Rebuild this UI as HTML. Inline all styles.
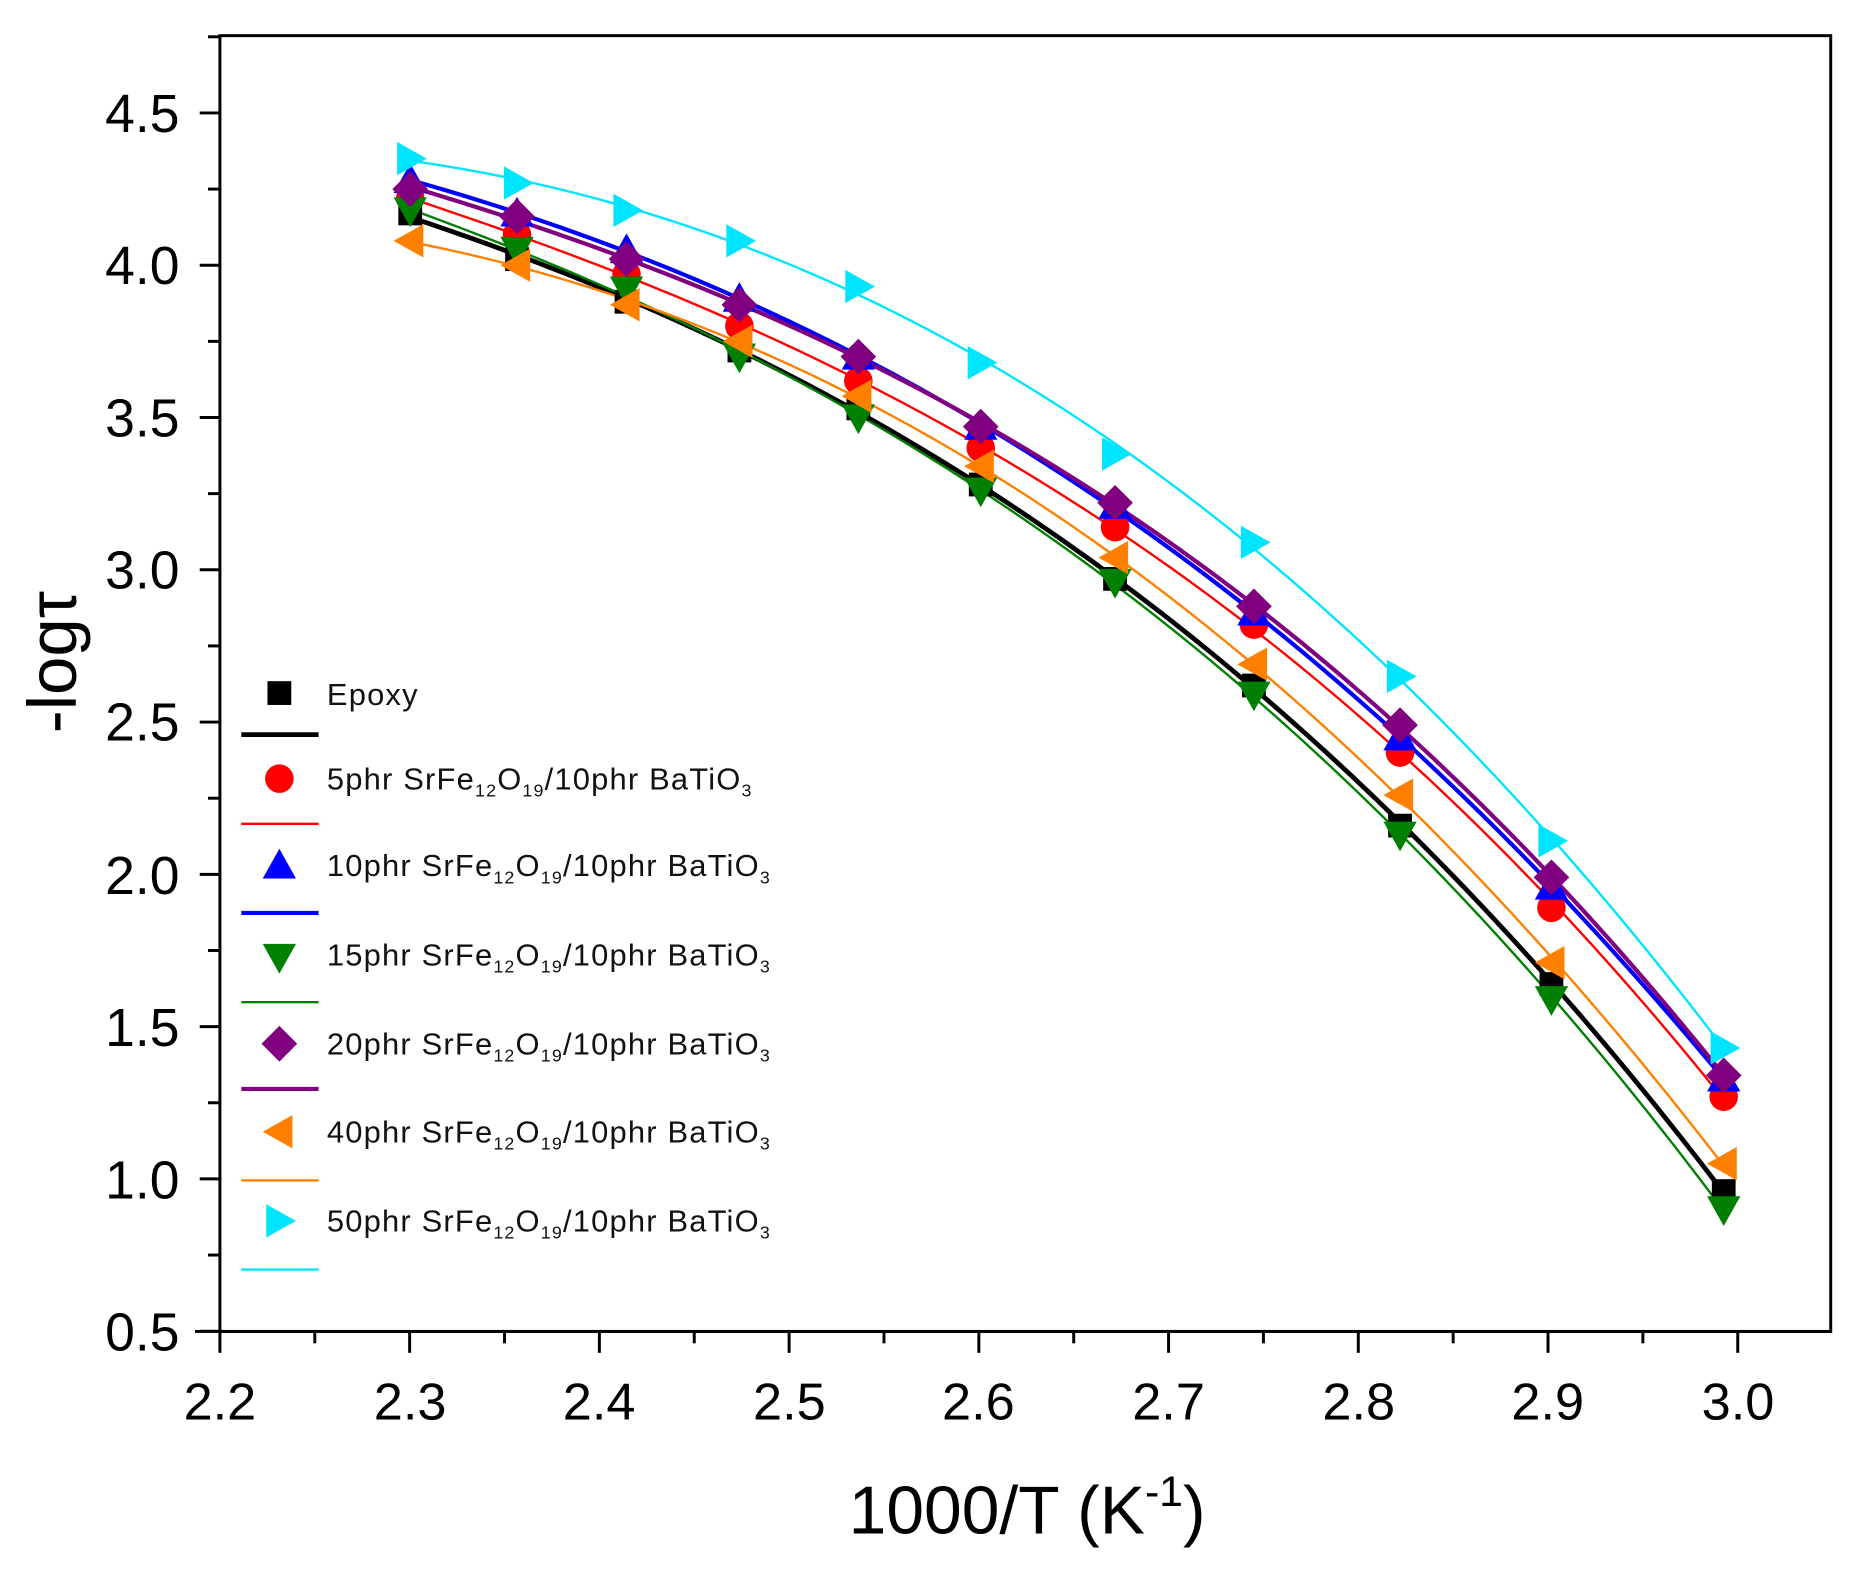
<!DOCTYPE html>
<html><head><meta charset="utf-8"><style>
html,body{margin:0;padding:0;background:#fff;}
svg{display:block;}
text{font-family:"Liberation Sans",Arial,sans-serif;}
</style></head><body>
<svg id="s" width="1864" height="1584" viewBox="0 0 1568 1332.46" xmlns="http://www.w3.org/2000/svg">
<rect x="0" y="0" width="1568" height="1333" fill="#fff"/>
<g id="plot"></g>
<rect x="185" y="30" width="1355" height="1090" fill="none" stroke="#000" stroke-width="2.5"/>
<line x1="164" y1="1120" x2="1540" y2="1120" stroke="#000" stroke-width="2.5"/>
<g id="ticks" stroke="#000" stroke-width="2.5"></g>
<g font-size="45" text-anchor="end">
<text x="151" y="111">4.5</text><text x="151" y="239">4.0</text><text x="151" y="367">3.5</text>
<text x="151" y="495">3.0</text><text x="151" y="623">2.5</text><text x="151" y="752">2.0</text>
<text x="151" y="880">1.5</text><text x="151" y="1008">1.0</text><text x="151" y="1136">0.5</text>
</g>
<g font-size="44" text-anchor="middle">
<text x="185" y="1194">2.2</text><text x="345" y="1194">2.3</text><text x="504" y="1194">2.4</text>
<text x="664" y="1194">2.5</text><text x="823" y="1194">2.6</text><text x="983" y="1194">2.7</text>
<text x="1143" y="1194">2.8</text><text x="1302" y="1194">2.9</text><text x="1462" y="1194">3.0</text>
</g>
<text x="864" y="1290" font-size="57" text-anchor="middle">1000/T (K<tspan dy="-23" font-size="36">-1</tspan><tspan dy="23">)</tspan></text>
<text transform="translate(64,557) rotate(-90)" font-size="58" text-anchor="middle">-logτ</text>
<g id="legend"></g>
<g font-size="26" fill="#111" letter-spacing="1">
<text x="275" y="593">Epoxy</text>
<text x="275" y="664">5phr SrFe<tspan font-size="15" dy="6">12</tspan><tspan dy="-6">O</tspan><tspan font-size="15" dy="6">19</tspan><tspan dy="-6">/10phr BaTiO</tspan><tspan font-size="15" dy="6">3</tspan></text>
<text x="275" y="737">10phr SrFe<tspan font-size="15" dy="6">12</tspan><tspan dy="-6">O</tspan><tspan font-size="15" dy="6">19</tspan><tspan dy="-6">/10phr BaTiO</tspan><tspan font-size="15" dy="6">3</tspan></text>
<text x="275" y="812">15phr SrFe<tspan font-size="15" dy="6">12</tspan><tspan dy="-6">O</tspan><tspan font-size="15" dy="6">19</tspan><tspan dy="-6">/10phr BaTiO</tspan><tspan font-size="15" dy="6">3</tspan></text>
<text x="275" y="887">20phr SrFe<tspan font-size="15" dy="6">12</tspan><tspan dy="-6">O</tspan><tspan font-size="15" dy="6">19</tspan><tspan dy="-6">/10phr BaTiO</tspan><tspan font-size="15" dy="6">3</tspan></text>
<text x="275" y="961">40phr SrFe<tspan font-size="15" dy="6">12</tspan><tspan dy="-6">O</tspan><tspan font-size="15" dy="6">19</tspan><tspan dy="-6">/10phr BaTiO</tspan><tspan font-size="15" dy="6">3</tspan></text>
<text x="275" y="1036">50phr SrFe<tspan font-size="15" dy="6">12</tspan><tspan dy="-6">O</tspan><tspan font-size="15" dy="6">19</tspan><tspan dy="-6">/10phr BaTiO</tspan><tspan font-size="15" dy="6">3</tspan></text>
</g>
</svg>
<script>
var NS="http://www.w3.org/2000/svg";
function el(p,t,a){var e=document.createElementNS(NS,t);for(var k in a)e.setAttribute(k,a[k]);p.appendChild(e);return e;}
var X=function(v){return 185+(v-2.2)*1596;}, Y=function(v){return 95+(4.5-v)*256.2;};
var ticks=document.getElementById('ticks');
for(var i=0;i<=17;i++){var v=0.5+i*0.25;var y=Y(v);var maj=i%2==0;el(ticks,'line',{x1:maj?168:175,y1:y,x2:185,y2:y});}
for(var i=0;i<=16;i++){var v=2.2+i*0.05;var x=X(v);var maj=i%2==0;el(ticks,'line',{x1:x,y1:1120,x2:x,y2:maj?1138:1130});}
var xs=[2.3003,2.3566,2.4143,2.4738,2.5365,2.601,2.6718,2.745,2.822,2.9018,2.9926];
var S=[
 ['#000','sq',[4.17,4.02,3.88,3.72,3.53,3.28,2.97,2.62,2.16,1.64,0.96],4],
 ['#ff0000','ci',[4.22,4.10,3.97,3.80,3.62,3.40,3.14,2.82,2.40,1.89,1.27],2],
 ['#0000ff','up',[4.28,4.17,4.05,3.89,3.70,3.47,3.21,2.86,2.45,1.96,1.33],3.5],
 ['#008000','dn',[4.18,4.05,3.92,3.70,3.50,3.26,2.96,2.59,2.13,1.59,0.90],2],
 ['#800080','di',[4.25,4.16,4.02,3.87,3.70,3.47,3.22,2.88,2.49,1.99,1.34],3.5],
 ['#ff8000','lt',[4.08,4.00,3.87,3.75,3.57,3.34,3.04,2.69,2.26,1.71,1.05],2],
 ['#00e5ff','rt',[4.35,4.27,4.18,4.08,3.93,3.68,3.38,3.09,2.65,2.11,1.43],2]];
function marker(g,t,x,y,c){
 if(t=='sq')el(g,'rect',{x:x-10,y:y-10,width:20,height:20,fill:c});
 else if(t=='ci')el(g,'circle',{cx:x,cy:y,r:12,fill:c});
 else{var p;
  if(t=='up')p=[[x,y-14],[x+14,y+11],[x-14,y+11]];
  if(t=='dn')p=[[x,y+14],[x+14,y-11],[x-14,y-11]];
  if(t=='di')p=[[x,y-15],[x+15,y],[x,y+15],[x-15,y]];
  if(t=='lt')p=[[x-14,y],[x+11,y-14],[x+11,y+14]];
  if(t=='rt')p=[[x+14,y],[x-11,y-14],[x-11,y+14]];
  el(g,'polygon',{points:p.map(function(a){return a.join(',')}).join(' '),fill:c});}
}
function fit(ys,deg){
 var n=deg+1,A=[],b=[];for(var i=0;i<n;i++){A.push(new Array(n).fill(0));b.push(0);}
 xs.forEach(function(x,k){var t=x-2.65;for(var i=0;i<n;i++){b[i]+=ys[k]*Math.pow(t,i);for(var j=0;j<n;j++)A[i][j]+=Math.pow(t,i+j);}});
 for(var i=0;i<n;i++){for(var r=i+1;r<n;r++){var f=A[r][i]/A[i][i];for(var j=i;j<n;j++)A[r][j]-=f*A[i][j];b[r]-=f*b[i];}}
 var c=new Array(n);for(var i=n-1;i>=0;i--){var s=b[i];for(var j=i+1;j<n;j++)s-=A[i][j]*c[j];c[i]=s/A[i][i];}
 return function(x){var t=x-2.65,s=0;for(var i=0;i<n;i++)s+=c[i]*Math.pow(t,i);return s;};
}
var plot=document.getElementById('plot');
S.forEach(function(s){
 var f=fit(s[2],3),pts=[];
 for(var x=2.3003;x<=2.9927;x+=0.005)pts.push(X(x)+','+Y(f(x)));
 pts.push(X(2.9926)+','+Y(f(2.9926)));
 el(plot,'polyline',{points:pts.join(' '),fill:'none',stroke:s[0],'stroke-width':s[3]});
});
S.forEach(function(s){xs.forEach(function(x,i){marker(plot,s[1],X(x),Y(s[2][i]),s[0]);});});
var lg=document.getElementById('legend');
var my=[583,655,728,805,878,952,1027],ly=[618,693,768,843,916,993,1068];
S.forEach(function(s,i){marker(lg,s[1],235,my[i],s[0]);el(lg,'line',{x1:203,y1:ly[i],x2:268,y2:ly[i],stroke:s[0],'stroke-width':s[3]});});
</script>
</body></html>
